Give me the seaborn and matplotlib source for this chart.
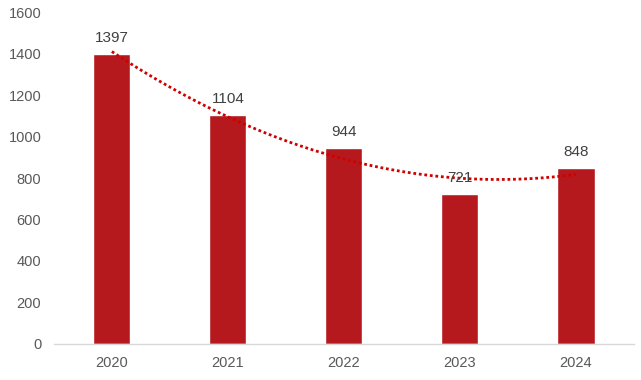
import numpy as np
import pandas as pd
import matplotlib
matplotlib.use("Agg")
import matplotlib.pyplot as plt
import seaborn as sns

years = ["2020", "2021", "2022", "2023", "2024"]
counts = [1397, 1104, 944, 721, 848]

sns.set_style("white")
plt.rcParams["font.family"] = ["Liberation Sans", "DejaVu Sans"]

df = pd.DataFrame({"year": years, "count": counts})
df["pos"] = np.arange(len(years))

fig, ax = plt.subplots(figsize=(6.41, 3.8), dpi=100)
fig.subplots_adjust(left=0.084, right=0.989, bottom=0.095, top=0.968)

sns.barplot(data=df, x="year", y="count", color="#B5191E", saturation=1,
            width=0.32, ax=ax)

# second-order trendline like the spreadsheet one
sns.regplot(data=df, x="pos", y="count", order=2, ci=None, scatter=False,
            truncate=True, ax=ax,
            line_kws={"color": "#D00000", "linestyle": (0, (1, 1)), "linewidth": 2})

for i, v in enumerate(counts):
    ax.text(i, v + 45, str(v), ha="center", va="bottom", fontsize=11, color="#404040")

ax.set_ylim(0, 1600)
ax.set_yticks(range(0, 1601, 200))
ax.set_xlim(-0.5, len(years) - 0.5)
ax.set_xlabel("")
ax.set_ylabel("")
ax.tick_params(axis="both", labelsize=10.5, colors="#595959", length=0, pad=9)

for s in ["top", "right", "left"]:
    ax.spines[s].set_visible(False)
ax.spines["bottom"].set_color("#D9D9D9")
ax.spines["bottom"].set_linewidth(1)

plt.savefig("out.png", dpi=100)
